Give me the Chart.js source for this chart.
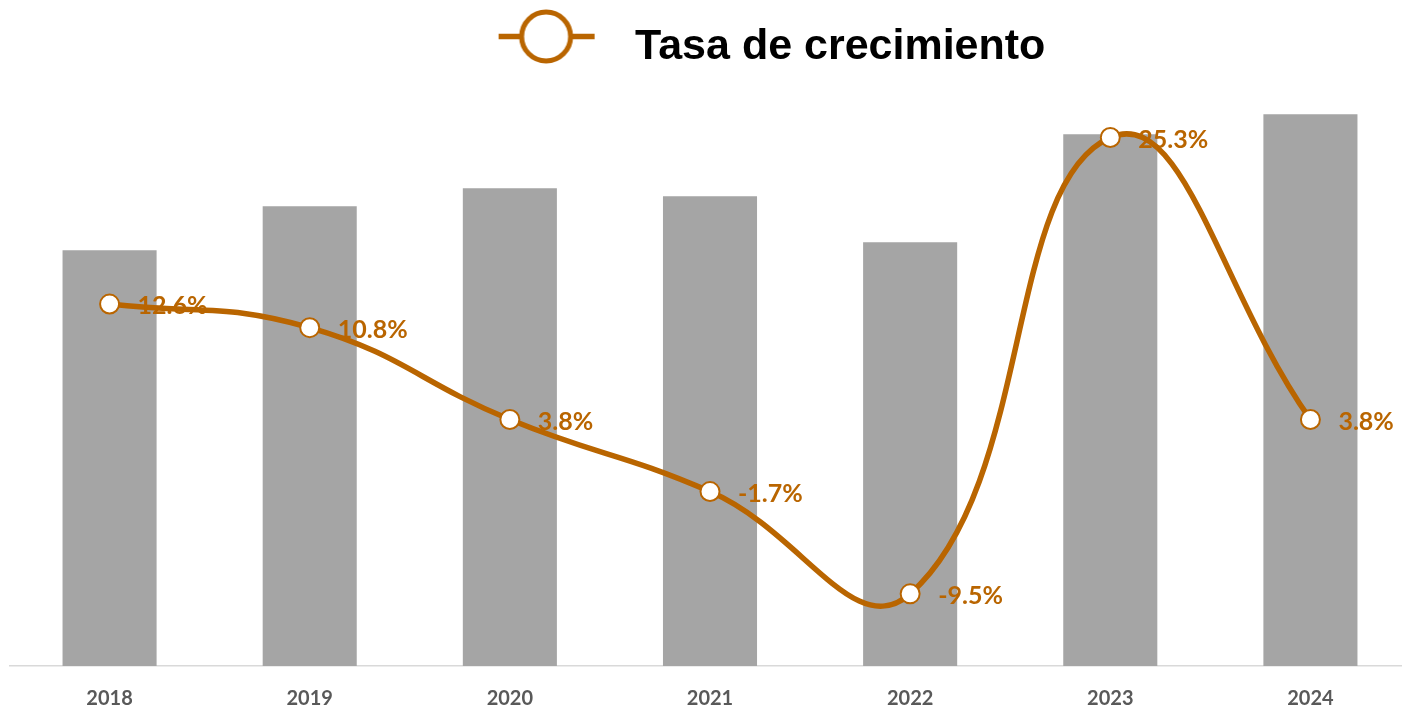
<!DOCTYPE html>
<html>
<head>
<meta charset="utf-8">
<script src="https://cdn.jsdelivr.net/npm/chart.js@4.4.1/dist/chart.umd.min.js"></script>
<style>
  html, body { margin: 0; padding: 0; background: #fff; overflow: hidden; }
  #wrap { width: 1402px; height: 707px; overflow: hidden; position: relative; }
  #chart { position: absolute; left: -2px; top: 0; }
</style>
</head>
<body>
<div id="wrap"><canvas id="chart" width="1424" height="728"></canvas></div>
<script>
const years = ['2018', '2019', '2020', '2021', '2022', '2023', '2024'];
const totals = [100, 110.6, 114.9, 113.0, 101.9, 127.9, 132.7];
const growth = [12.6, 10.8, 3.8, -1.7, -9.5, 25.3, 3.8];
const growthLabels = ['12.6%', '10.8%', '3.8%', '-1.7%', '-9.5%', '25.3%', '3.8%'];

const orange = '#B96500';
const grey = '#A5A5A5';

// legend symbol: line with an open circle, blank space on the left to push the item right
const symbol = document.createElement('canvas');
symbol.width = 226;
symbol.height = 80;
(() => {
    const c = symbol.getContext('2d');
    c.strokeStyle = orange;
    c.lineWidth = 5.5;
    c.beginPath();
    c.moveTo(111, 29.5);
    c.lineTo(207, 29.5);
    c.stroke();
    c.beginPath();
    c.arc(158.5, 29.5, 24.5, 0, Math.PI * 2);
    c.fillStyle = '#fff';
    c.fill();
    c.lineWidth = 5;
    c.stroke();
})();

const pointLabels = {
    id: 'pointLabels',
    afterDatasetsDraw(chart) {
        const meta = chart.getDatasetMeta(0);
        const ctx = chart.ctx;
        ctx.save();
        ctx.font = 'bold 25px Lato';
        ctx.fillStyle = orange;
        ctx.textAlign = 'left';
        ctx.textBaseline = 'middle';
        meta.data.forEach((pt, i) => {
            ctx.fillText(growthLabels[i], pt.x + 28, pt.y + 2);
        });
        ctx.restore();
    }
};

new Chart(document.getElementById('chart'), {
    data: {
        labels: years,
        datasets: [{
            type: 'line',
            label: 'Tasa de crecimiento',
            data: growth,
            yAxisID: 'y1',
            order: 0,
            borderColor: orange,
            borderWidth: 5.5,
            tension: 0.45,
            pointRadius: 9.5,
            pointHoverRadius: 9.5,
            pointBackgroundColor: '#fff',
            pointBorderColor: orange,
            pointBorderWidth: 2
        }, {
            type: 'bar',
            label: 'Total',
            data: totals,
            yAxisID: 'y',
            order: 1,
            backgroundColor: grey,
            categoryPercentage: 1,
            barPercentage: 0.47
        }]
    },
    options: {
        responsive: false,
        animation: false,
        layout: { padding: { left: 5, right: -8, top: 0, bottom: -4 } },
        plugins: {
            tooltip: { enabled: false },
            legend: {
                position: 'top',
                labels: {
                    filter: item => item.datasetIndex === 0,
                    usePointStyle: true,
                    pointStyle: symbol,
                    pointStyleWidth: 226,
                    boxHeight: 43,
                    padding: 25.5,
                    color: '#000',
                    font: { family: 'Liberation Sans', size: 43, weight: 'bold' }
                }
            }
        },
        scales: {
            x: {
                grid: { display: false, drawTicks: false },
                border: { color: '#D9D9D9', width: 1.5 },
                ticks: {
                    padding: 21,
                    color: '#595959',
                    font: { family: 'Lato', size: 20, weight: 'bold' }
                }
            },
            y: { display: false, min: 0, max: 141.3 },
            y1: { display: false, min: -15, max: 29.8 }
        }
    },
    plugins: [pointLabels]
});
</script>
</body>
</html>
